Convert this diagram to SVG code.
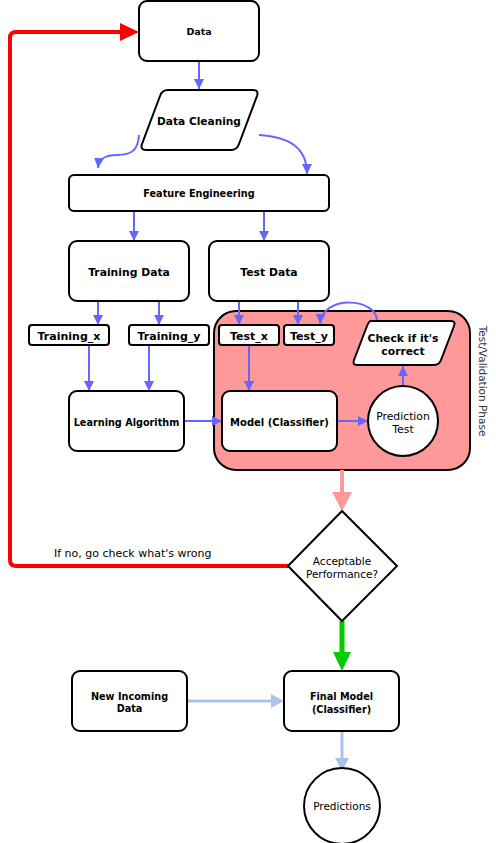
<svg xmlns="http://www.w3.org/2000/svg" width="496" height="843" viewBox="0 0 496 843">
<style>
.n{fill:#fff;stroke:#000;stroke-width:2}
.t{font-family:"DejaVu Sans",Verdana,sans-serif;font-weight:bold;fill:#000;text-anchor:middle}
.r{font-family:"DejaVu Sans",Verdana,sans-serif;fill:#000;text-anchor:middle}
.b{fill:none;stroke:#6666FF;stroke-width:2;marker-end:url(#ab)}
</style>
<defs>
<marker id="ab" markerUnits="userSpaceOnUse" viewBox="0 0 10 10" markerWidth="10" markerHeight="11" refX="10" refY="5" orient="auto"><path d="M0,0 L10,5 L0,10 z" fill="#6666FF"/></marker>
</defs>
<rect width="496" height="843" fill="#fff"/>
<g id="phase">
<rect x="214" y="311" width="256" height="159" rx="22" fill="#FF9999" stroke="#000" stroke-width="2"/>
<text x="0" y="0" transform="translate(479,381) rotate(90)" class="r" font-size="10.5" fill="#333" style="fill:#333">Test/Validation Phase</text>
</g>
<g id="connectors">
<line x1="199" y1="61" x2="199" y2="89" class="b"/>
<path d="M139,135 C138,150 132,155 117,155 C106,155 99,158 98,168" class="b"/>
<path d="M259,135 C290,137 307,148 307,174" class="b"/>
<line x1="134" y1="211" x2="134" y2="241" class="b"/>
<line x1="264" y1="211" x2="264" y2="241" class="b"/>
<line x1="98" y1="301" x2="98" y2="325" class="b"/>
<line x1="159" y1="301" x2="159" y2="325" class="b"/>
<line x1="239" y1="301" x2="239" y2="325" class="b"/>
<line x1="298" y1="301" x2="298" y2="325" class="b"/>
<path d="M377,321 C378,298 322,294 320,324" class="b"/>
<line x1="89" y1="345" x2="89" y2="391" class="b"/>
<line x1="149" y1="345" x2="149" y2="391" class="b"/>
<line x1="249" y1="345" x2="249" y2="391" class="b"/>
<line x1="184" y1="421" x2="222" y2="421" class="b"/>
<line x1="337" y1="421" x2="368" y2="421" class="b"/>
<line x1="403" y1="386" x2="403" y2="366" class="b"/>
<path d="M288,566 L16,566 Q10,566 10,560 L10,38 Q10,32 16,32 L122,32" fill="none" stroke="#FF0000" stroke-width="4"/>
<polygon points="120,23 139,32 120,41" fill="#FF0000"/>
<line x1="342" y1="470" x2="342" y2="493" stroke="#FF9999" stroke-width="4"/>
<polygon points="332,492 352,492 342,511" fill="#FF9999"/>
<line x1="342" y1="621" x2="342" y2="653" stroke="#00CC00" stroke-width="5"/>
<polygon points="333,652 351,652 342,671" fill="#00CC00"/>
<line x1="187" y1="701" x2="272" y2="701" stroke="#A9C4EB" stroke-width="3"/>
<polygon points="271,694 271,708 284,701" fill="#A9C4EB"/>
<line x1="342" y1="731" x2="342" y2="759" stroke="#A9C4EB" stroke-width="3"/>
<polygon points="335,758 349,758 342,771" fill="#A9C4EB"/>
<text x="54" y="557" class="r" font-size="11" text-anchor="start" style="text-anchor:start">If no, go check what's wrong</text>
</g>
<g id="data"><rect class="n" x="139" y="1" width="120" height="60" rx="8"/><text class="t" x="199" y="35" font-size="9.5">Data</text></g>
<g id="cleaning"><path class="n" d="M168,90 L253,90 Q259,90 257,96 L239,144 Q237,150 231,150 L146,150 Q140,150 142,144 L160,96 Q162,90 168,90 z"/><text class="t" x="199" y="125" font-size="10.6">Data Cleaning</text></g>
<g id="feature"><rect class="n" x="69" y="175" width="260" height="36" rx="5"/><text class="t" x="199" y="197" font-size="9.7">Feature Engineering</text></g>
<g id="training"><rect class="n" x="69" y="241" width="120" height="60" rx="8"/><text class="t" x="129" y="276" font-size="10.8">Training Data</text></g>
<g id="test"><rect class="n" x="209" y="241" width="120" height="60" rx="8"/><text class="t" x="269" y="276" font-size="10.8">Test Data</text></g>
<g id="trainx"><rect class="n" x="29" y="325" width="80" height="20" rx="3"/><text class="t" x="69" y="340" font-size="11">Training_x</text></g>
<g id="trainy"><rect class="n" x="129" y="325" width="80" height="20" rx="3"/><text class="t" x="169" y="340" font-size="11">Training_y</text></g>
<g id="testx"><rect class="n" x="219" y="325" width="60" height="20" rx="3"/><text class="t" x="249" y="340" font-size="11">Test_x</text></g>
<g id="testy"><rect class="n" x="284" y="325" width="50" height="20" rx="3"/><text class="t" x="309" y="340" font-size="11">Test_y</text></g>
<g id="check"><path class="n" d="M371,321 L451,321 Q456,321 454,326 L441,360 Q439,365 434,365 L357,365 Q352,365 354,360 L367,326 Q369,321 371,321 z"/><text class="t" x="403" y="342" font-size="10.8">Check if it's</text><text class="t" x="403" y="355" font-size="10.8">correct</text></g>
<g id="learning"><rect class="n" x="69" y="391" width="115" height="60" rx="8"/><text class="t" x="126.5" y="426" font-size="9.7">Learning Algorithm</text></g>
<g id="model"><rect class="n" x="222" y="391" width="115" height="60" rx="8"/><text class="t" x="279.5" y="426" font-size="10">Model (Classifier)</text></g>
<g id="prediction"><circle class="n" cx="403" cy="421" r="35"/><text class="r" x="403" y="420" font-size="10.8">Prediction</text><text class="r" x="403" y="433" font-size="10.8">Test</text></g>
<g id="acceptable"><path class="n" d="M342,511 L397,566 L342,621 L288,566 z"/><text class="r" x="342" y="565" font-size="10.5">Acceptable</text><text class="r" x="342" y="578" font-size="10.5">Performance?</text></g>
<g id="newdata"><rect class="n" x="72" y="671" width="115" height="60" rx="8"/><text class="t" x="129.5" y="700" font-size="9.7">New Incoming</text><text class="t" x="129.5" y="712" font-size="9.7">Data</text></g>
<g id="final"><rect class="n" x="284" y="671" width="115" height="60" rx="8"/><text class="t" x="341.5" y="700" font-size="9.7">Final Model</text><text class="t" x="341.5" y="713" font-size="9.7">(Classifier)</text></g>
<g id="predictions"><circle class="n" cx="342" cy="806" r="38"/><text class="r" x="342" y="810" font-size="10.5">Predictions</text></g>
</svg>
